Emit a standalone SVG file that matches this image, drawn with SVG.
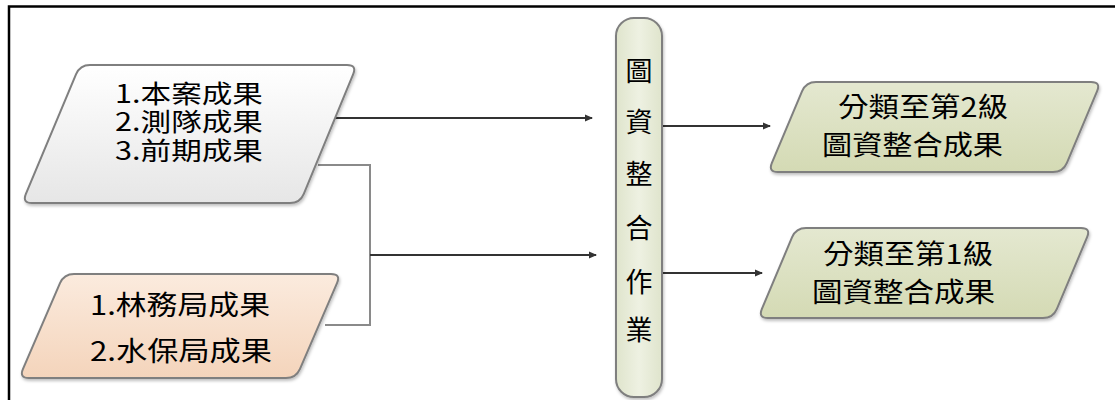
<svg xmlns="http://www.w3.org/2000/svg" width="1115" height="400" viewBox="0 0 1115 400">
<style>
.lbl{font-family:"Noto Sans CJK TC","Noto Sans CJK SC",sans-serif;font-size:27px;fill:#000;}
.sm{font-size:25px;}
.shape{stroke:#7f7f7f;stroke-width:2;filter:url(#sh);}
.gline{fill:none;stroke:#8a8a8a;stroke-width:2;}
.arr{fill:none;stroke:#333;stroke-width:2;marker-end:url(#ah);}
</style>
<defs>
<linearGradient id="gGray" x1="0" y1="0" x2="0" y2="1"><stop offset="0" stop-color="#ffffff"/><stop offset="1" stop-color="#e6e6e6"/></linearGradient>
<linearGradient id="gPeach" x1="0" y1="0" x2="0" y2="1"><stop offset="0" stop-color="#fbebde"/><stop offset="1" stop-color="#f4d4bb"/></linearGradient>
<linearGradient id="gGreen" x1="0" y1="0" x2="0" y2="1"><stop offset="0" stop-color="#e4e8d0"/><stop offset="1" stop-color="#d4dab4"/></linearGradient>
<linearGradient id="gBar" x1="0" y1="0" x2="1" y2="0"><stop offset="0" stop-color="#dfe4cc"/><stop offset="0.5" stop-color="#eef1e2"/><stop offset="1" stop-color="#dfe4cc"/></linearGradient>
<filter id="sh" x="-10%" y="-10%" width="120%" height="130%"><feDropShadow dx="1" dy="2" stdDeviation="1.5" flood-color="#000" flood-opacity="0.25"/></filter>
<marker id="ah" markerWidth="8" markerHeight="8" refX="7" refY="4" orient="auto" markerUnits="userSpaceOnUse"><path d="M0,0.5 L8,4 L0,7.5 Z" fill="#333"/></marker>
</defs>
<rect width="1115" height="400" fill="#fff"/>
<path d="M9,400 L9,6.5 L1115,6.5" fill="none" stroke="#000" stroke-width="2.5"/>

<g id="connectors">
<path class="gline" d="M318,165 L370,165 L370,325 L325,325"/>
<path class="arr" d="M330,118 L592,118"/>
<path class="arr" d="M370,255 L596,255"/>
<path class="arr" d="M662,126 L770,126"/>
<path class="arr" d="M662,273 L762,273"/>
</g>

<g id="node-sources">
<path class="shape" fill="url(#gGray)" d="M90,65 L347,65 Q357,65 353.2,74.2 L303.8,193.8 Q300,203 290,203 L32,203 Q22,203 25.9,193.8 L76.1,74.2 Q80,65 90,65 Z"/>
<text class="lbl sm" x="115" y="103" textLength="148" lengthAdjust="spacingAndGlyphs">1.本案成果</text>
<text class="lbl sm" x="115" y="131" textLength="148" lengthAdjust="spacingAndGlyphs">2.測隊成果</text>
<text class="lbl sm" x="115" y="160" textLength="148" lengthAdjust="spacingAndGlyphs">3.前期成果</text>
</g>

<g id="node-agencies">
<path class="shape" fill="url(#gPeach)" d="M74,274 L331,274 Q341,274 337,283.2 L300,368.8 Q296,378 286,378 L29,378 Q19,378 23,368.8 L60,283.2 Q64,274 74,274 Z"/>
<text class="lbl" x="90" y="315" textLength="180" lengthAdjust="spacingAndGlyphs">1.林務局成果</text>
<text class="lbl" x="90" y="361" textLength="182" lengthAdjust="spacingAndGlyphs">2.水保局成果</text>
</g>

<g id="node-integration">
<rect class="shape" fill="url(#gBar)" x="616" y="18" width="46" height="379" rx="18" ry="18"/>
<text class="lbl" x="639" y="81" text-anchor="middle">圖</text>
<text class="lbl" x="639" y="132" text-anchor="middle">資</text>
<text class="lbl" x="639" y="184" text-anchor="middle">整</text>
<text class="lbl" x="639" y="238" text-anchor="middle">合</text>
<text class="lbl" x="639" y="292" text-anchor="middle">作</text>
<text class="lbl" x="639" y="340" text-anchor="middle">業</text>
</g>

<g id="node-level2">
<path class="shape" fill="url(#gGreen)" d="M816,82 L1091,82 Q1101,82 1097.1,91.2 L1066.9,162.8 Q1063,172 1053,172 L778,172 Q768,172 771.9,162.8 L802.1,91.2 Q806,82 816,82 Z"/>
<text class="lbl" x="838" y="117" textLength="170" lengthAdjust="spacingAndGlyphs">分類至第2級</text>
<text class="lbl" x="822" y="155" textLength="181" lengthAdjust="spacingAndGlyphs">圖資整合成果</text>
</g>

<g id="node-level1">
<path class="shape" fill="url(#gGreen)" d="M806,228 L1081,228 Q1091,228 1087.1,237.2 L1056.9,308.8 Q1053,318 1043,318 L768,318 Q758,318 761.9,308.8 L792.1,237.2 Q796,228 806,228 Z"/>
<text class="lbl" x="823" y="264" textLength="170" lengthAdjust="spacingAndGlyphs">分類至第1級</text>
<text class="lbl" x="812" y="302" textLength="183" lengthAdjust="spacingAndGlyphs">圖資整合成果</text>
</g>
</svg>
